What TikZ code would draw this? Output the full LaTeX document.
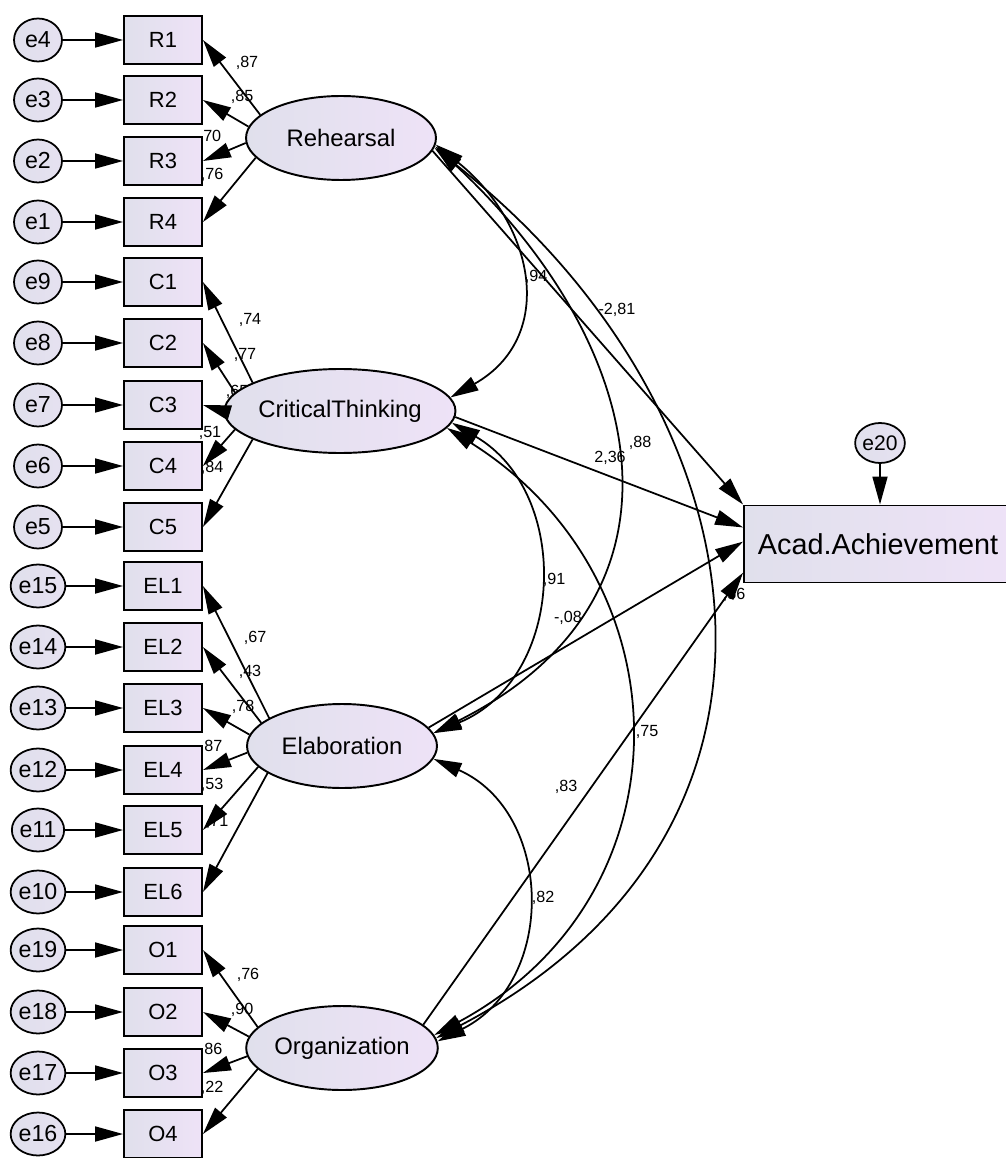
\documentclass[tikz,border=0pt]{standalone}
\usepackage{fontspec}
\setmainfont{Liberation Sans}
\usepackage{tikz}
\usetikzlibrary{calc,arrows.meta,shapes.geometric}
\definecolor{fillL}{RGB}{224,224,236}
\definecolor{fillR}{RGB}{238,226,247}
\tikzset{
	err/.style={ellipse, draw, line width=1pt, left color=fillL, right color=fillL!60!fillR, minimum width=0.96cm, minimum height=0.86cm, inner sep=0pt, font=\fontsize{13.2}{14}\selectfont},
	obs/.style={rectangle, draw, line width=1.1pt, left color=fillL, right color=fillR, minimum width=1.56cm, minimum height=0.96cm, inner sep=0pt, font=\fontsize{12.5}{14}\selectfont},
	lat/.style={ellipse, draw, line width=1.1pt, left color=fillL, right color=fillR, minimum width=3.8cm, minimum height=1.68cm, inner sep=0pt, font=\fontsize{13.6}{15}\selectfont},
	arr/.style={-{Triangle[length=5.6mm,width=3mm]}, line width=1pt},
	cov/.style={{Triangle[length=5.6mm,width=3mm]}-{Triangle[length=5.6mm,width=3mm]}, line width=1pt},
	lbl/.style={inner sep=0pt, font=\fontsize{9.2}{10}\selectfont}
}

\begin{document}
\begin{tikzpicture}[x=0.02cm, y=-0.02cm]
			%%%%% START %%%%%
			\useasboundingbox (0, 0) rectangle (1006, 1158);
			
			% loading labels (drawn first, boxes cover them)
			\node[lbl] (lR1) at (247, 63) {,87};
			\node[lbl] (lR2) at (242, 97) {,85};
			\node[lbl] (lR3) at (210, 137) {,70};
			\node[lbl] (lR4) at (212, 175) {,76};
			\node[lbl] (lC1) at (250, 320) {,74};
			\node[lbl] (lC2) at (245, 355) {,77};
			\node[lbl] (lC3) at (237, 392) {,65};
			\node[lbl] (lC4) at (210, 433) {,51};
			\node[lbl] (lC5) at (212, 468) {,84};
			\node[lbl] (lEL1) at (255, 638) {,67};
			\node[lbl] (lEL2) at (250, 672) {,43};
			\node[lbl] (lEL3) at (243, 707) {,78};
			\node[lbl] (lEL4) at (211, 747) {,87};
			\node[lbl] (lEL5) at (212, 785) {,53};
			\node[lbl] (lEL6) at (217, 822) {,71};
			\node[lbl] (lO1) at (248, 975) {,76};
			\node[lbl] (lO2) at (242, 1010) {,90};
			\node[lbl] (lO3) at (211, 1050) {,86};
			\node[lbl] (lO4) at (212, 1088) {,22};
			
			% structural labels
			\node[lbl] (lRA) at (617, 310) {-2,81};
			\node[lbl] (lCA) at (610, 458) {2,36};
			\node[lbl] (lEA) at (568, 618) {-,08};
			\node[lbl] (lOA) at (566, 787) {,83};
			\node[lbl] (lRC) at (536, 277) {,94};
			\node[lbl] (lRE) at (640, 443) {,88};
			\node[lbl] (lRO) at (734, 595) {,56};
			\node[lbl] (lCE) at (554, 580) {,91};
			\node[lbl] (lCO) at (647, 732) {,75};
			\node[lbl] (lEO) at (543, 898) {,82};
			
			% errors
			\node[err] (e4) at (38, 40) {e4};
			\node[err] (e3) at (38, 100) {e3};
			\node[err] (e2) at (38, 161) {e2};
			\node[err] (e1) at (38, 222) {e1};
			\node[err] (e9) at (38, 282) {e9};
			\node[err] (e8) at (38, 343) {e8};
			\node[err] (e7) at (38, 405) {e7};
			\node[err] (e6) at (38, 466) {e6};
			\node[err] (e5) at (38, 527) {e5};
			\node[err] (e15) at (38, 586) {e15};
			\node[err] (e14) at (38, 647) {e14};
			\node[err] (e13) at (38, 708) {e13};
			\node[err] (e12) at (38, 770) {e12};
			\node[err] (e11) at (38, 830) {e11};
			\node[err] (e10) at (38, 892) {e10};
			\node[err] (e19) at (38, 950) {e19};
			\node[err] (e18) at (38, 1012) {e18};
			\node[err] (e17) at (38, 1073) {e17};
			\node[err] (e16) at (38, 1134) {e16};
			
			% items
			\node[obs] (R1) at (163, 40) {R1};
			\node[obs] (R2) at (163, 100) {R2};
			\node[obs] (R3) at (163, 161) {R3};
			\node[obs] (R4) at (163, 222) {R4};
			\node[obs] (C1) at (163, 282) {C1};
			\node[obs] (C2) at (163, 343) {C2};
			\node[obs] (C3) at (163, 405) {C3};
			\node[obs] (C4) at (163, 466) {C4};
			\node[obs] (C5) at (163, 527) {C5};
			\node[obs] (EL1) at (163, 586) {EL1};
			\node[obs] (EL2) at (163, 647) {EL2};
			\node[obs] (EL3) at (163, 708) {EL3};
			\node[obs] (EL4) at (163, 770) {EL4};
			\node[obs] (EL5) at (163, 830) {EL5};
			\node[obs] (EL6) at (163, 892) {EL6};
			\node[obs] (O1) at (163, 950) {O1};
			\node[obs] (O2) at (163, 1012) {O2};
			\node[obs] (O3) at (163, 1073) {O3};
			\node[obs] (O4) at (163, 1134) {O4};
			
			% latent factors
			\node[lat] (Reh) at (341, 138) {Rehearsal};
			\node[lat] (CT) at (340, 411) {CriticalThinking};
			\node[lat] (Elab) at (342, 746) {Elaboration};
			\node[lat] (Org) at (342, 1048) {Organization};
			
			% outcome
			\node[obs, minimum width=5.36cm, minimum height=1.54cm, font=\fontsize{16.4}{18}\selectfont] (Acad) at (878, 544) {Acad.Achievement};
			\node[err, minimum width=0.84cm, minimum height=0.8cm, font=\fontsize{12}{13}\selectfont] (e20) at (880, 443) {e20};
			
			% error arrows
			\draw[arr] (e4) -- (R1);
			\draw[arr] (e3) -- (R2);
			\draw[arr] (e2) -- (R3);
			\draw[arr] (e1) -- (R4);
			\draw[arr] (e9) -- (C1);
			\draw[arr] (e8) -- (C2);
			\draw[arr] (e7) -- (C3);
			\draw[arr] (e6) -- (C4);
			\draw[arr] (e5) -- (C5);
			\draw[arr] (e15) -- (EL1);
			\draw[arr] (e14) -- (EL2);
			\draw[arr] (e13) -- (EL3);
			\draw[arr] (e12) -- (EL4);
			\draw[arr] (e11) -- (EL5);
			\draw[arr] (e10) -- (EL6);
			\draw[arr] (e19) -- (O1);
			\draw[arr] (e18) -- (O2);
			\draw[arr] (e17) -- (O3);
			\draw[arr] (e16) -- (O4);
			\draw[arr] (e20) -- (Acad.north -| e20);
			
			% loadings
			\draw[arr] (Reh.164) -- (R1.east);
			\draw[arr] (Reh.173) -- (R2.east);
			\draw[arr] (Reh.183) -- (R3.east);
			\draw[arr] (Reh.193) -- (R4.east);
			\draw[arr] (CT.162) -- (C1.east);
			\draw[arr] (CT.170) -- (C2.east);
			\draw[arr] (CT.180) -- (C3.east);
			\draw[arr] (CT.190) -- (C4.east);
			\draw[arr] (CT.198) -- (C5.east);
			\draw[arr] (Elab.159) -- (EL1.east);
			\draw[arr] (Elab.164) -- (EL2.east);
			\draw[arr] (Elab.173) -- (EL3.east);
			\draw[arr] (Elab.184) -- (EL4.east);
			\draw[arr] (Elab.194) -- (EL5.east);
			\draw[arr] (Elab.200) -- (EL6.east);
			\draw[arr] (Org.166) -- (O1.east);
			\draw[arr] (Org.173) -- (O2.east);
			\draw[arr] (Org.185) -- (O3.east);
			\draw[arr] (Org.194) -- (O4.east);
			
			% paths to outcome
			\draw[arr] (Reh.-8) -- (Acad.north west);
			\draw[arr] (CT.-3) -- (Acad.173);
			\draw[arr] (Elab.12) -- (Acad.179);
			\draw[arr] (Org.16) -- (Acad.192);
			
			% covariances
			\draw[cov] (Reh.-4) .. controls +(100, 80) and +(106, -60) .. (CT.7);
			\draw[cov] (Reh.-5) .. controls +(215, 200) and +(270, -135) .. (Elab.8);
			\draw[cov] (Reh.-6) .. controls +(330, 260) and +(400, -210) .. (Org.6);
			\draw[cov] (CT.-6) .. controls +(120, 70) and +(133, -55) .. (Elab.8);
			\draw[cov] (CT.-9) .. controls +(240, 150) and +(260, -140) .. (Org.8);
			\draw[cov] (Elab.-8) .. controls +(120, 53) and +(120, -60) .. (Org.4);
			
			%%%%% END %%%%%
\end{tikzpicture}
\end{document}
